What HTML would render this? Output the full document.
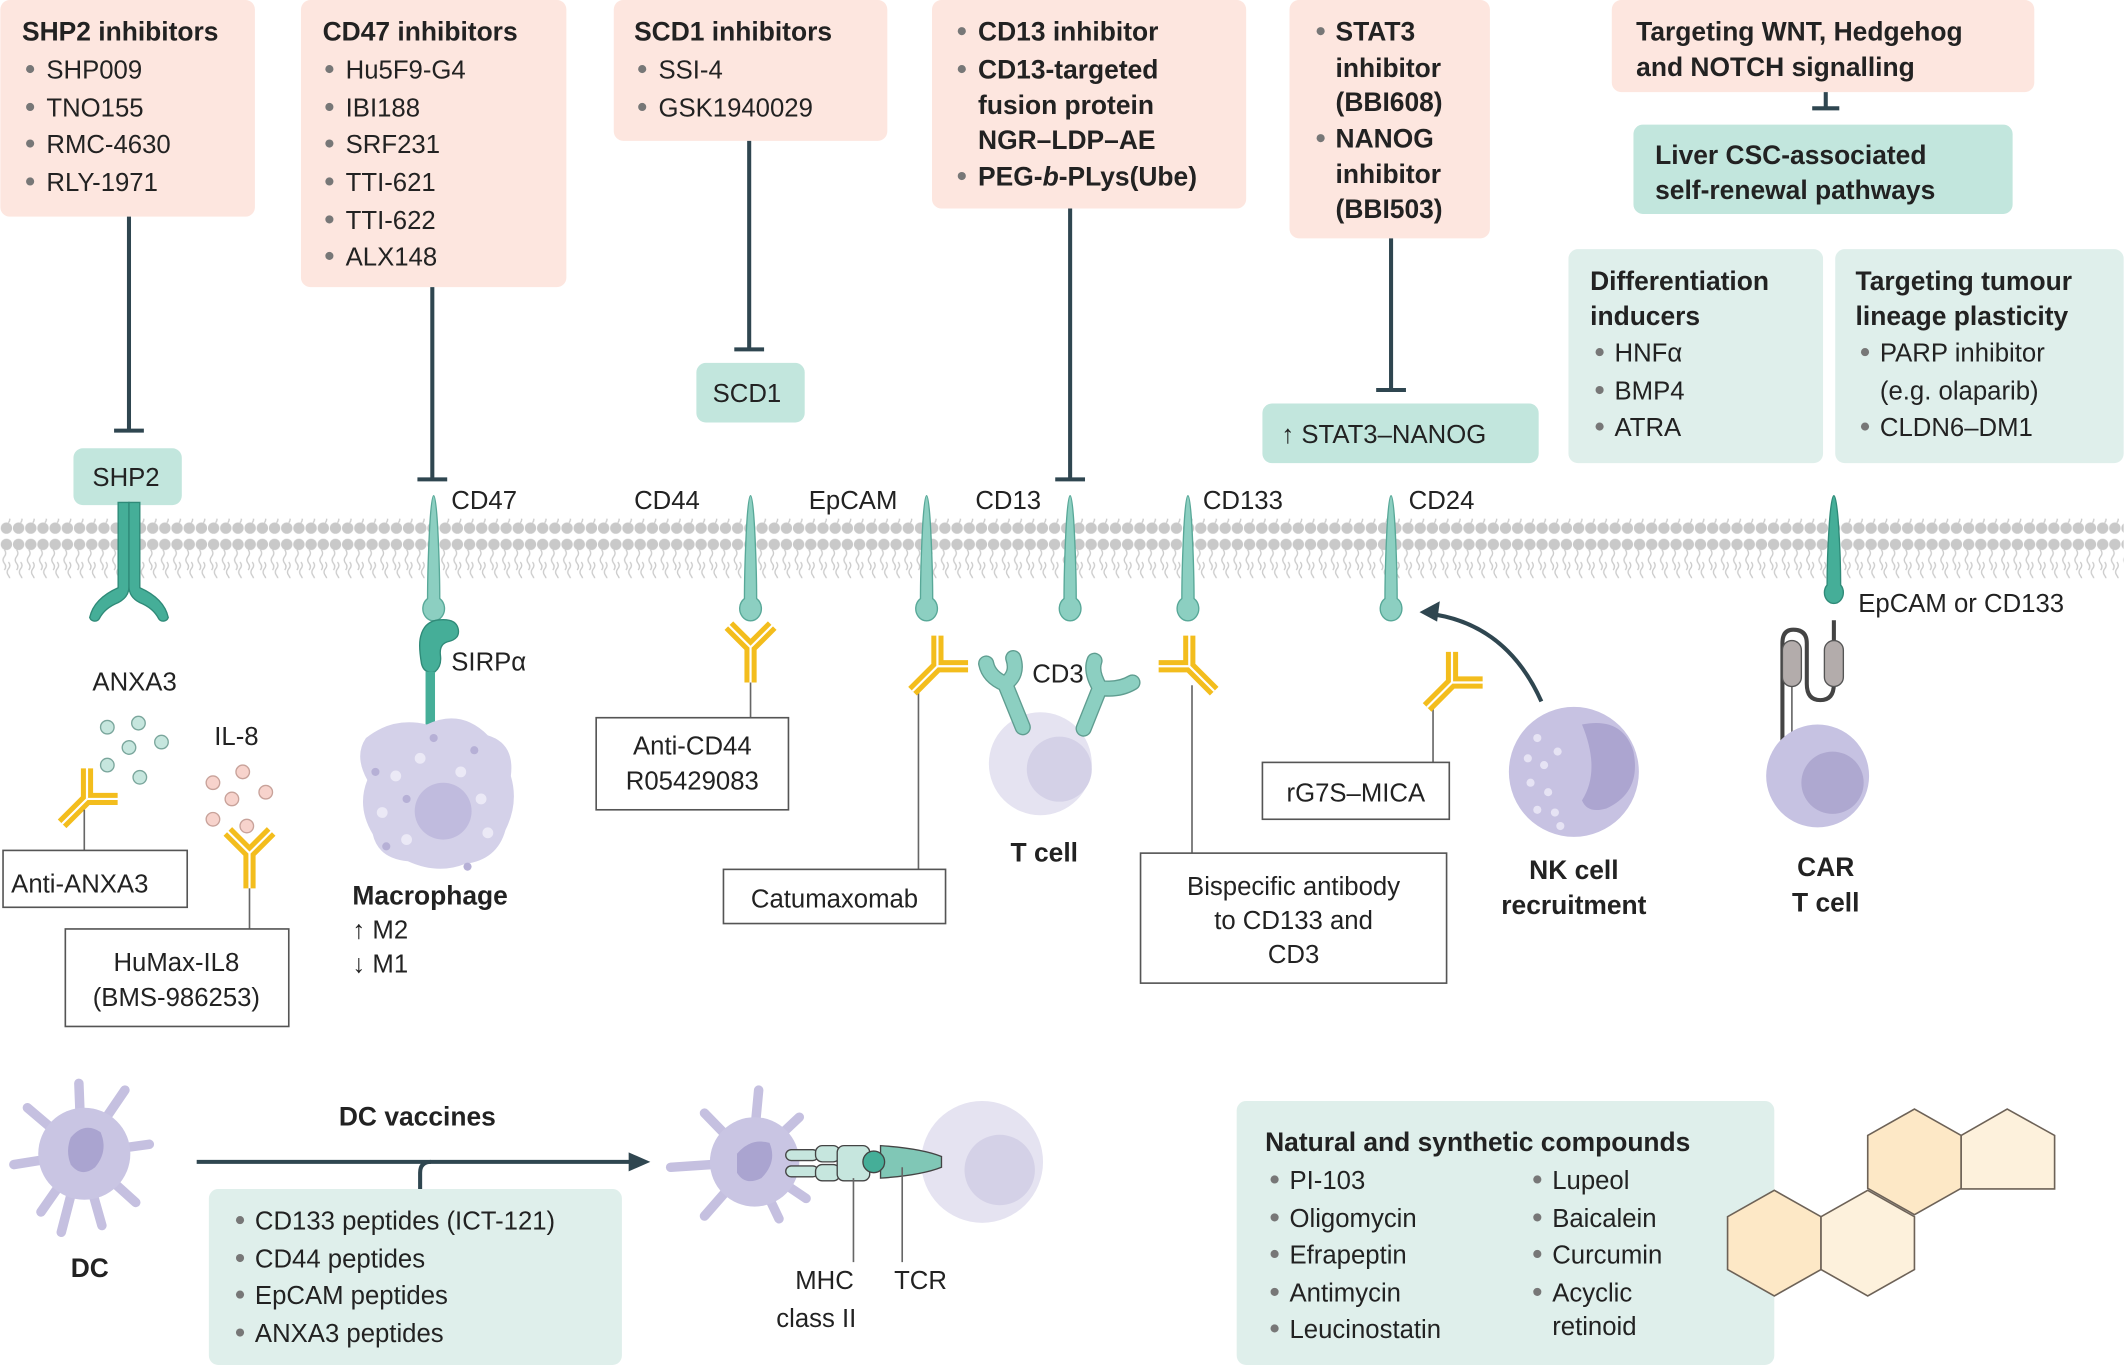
<!DOCTYPE html>
<html><head><meta charset="utf-8"><style>
html,body{margin:0;padding:0;background:#fff;}
svg{display:block;}
text{font-family:"Liberation Sans",sans-serif;fill:#222;}
.t{font-size:19px;}
.b{font-size:19.5px;font-weight:bold;}
.bul{fill:#777;}
</style></head><body>
<svg width="2124" height="1365" viewBox="0 0 1568 1008" xmlns="http://www.w3.org/2000/svg">
<defs>
<pattern id="mem" x="0" y="0" width="9" height="44" patternUnits="userSpaceOnUse">
<circle cx="4.5" cy="6" r="4.2" fill="#c9c9c9"/>
<circle cx="4.5" cy="38" r="4.2" fill="#c9c9c9"/>
<path d="M3,10 q2,2.5 0,5 q-2,2.5 0,5 q2,2.5 0,5" stroke="#ccc" fill="none" stroke-width="1"/>
<path d="M6,34 q2,-2.5 0,-5 q-2,-2.5 0,-5 q2,-2.5 0,-5" stroke="#ccc" fill="none" stroke-width="1"/>
</pattern>
<g id="ab">
<path d="M0,0 L0,26 M0,0 L-16,-16 M0,0 L16,-16" stroke="#f3bd1d" stroke-width="9" fill="none"/>
<path d="M0,0 L0,26 M0,0 L-17,-17 M0,0 L17,-17" stroke="#fff" stroke-width="1.6" fill="none"/>
</g>
<g id="rc">
<path d="M0,-50 C3,-50 4.5,10 4.5,26 A8,9 0 1 1 -4.5,26 C-4.5,10 -3,-50 0,-50Z" fill="#8ccfc1" stroke="#58a898" stroke-width="1"/>
</g>
</defs>

<rect x="0" y="383" width="1568" height="44" fill="url(#mem)"/>

<g fill="#fde6df">
<rect x="0" y="0" width="188" height="160" rx="7"/>
<rect x="222" y="0" width="196" height="212" rx="7"/>
<rect x="453" y="0" width="202" height="104" rx="7"/>
<rect x="688" y="0" width="232" height="154" rx="7"/>
<rect x="952" y="0" width="148" height="176" rx="7"/>
<rect x="1190" y="0" width="312" height="68" rx="7"/>
</g>
<text class="b" x="16" y="30">SHP2 inhibitors</text>
<g class="t"><text x="34" y="58">SHP009</text><text x="34" y="86">TNO155</text><text x="34" y="113">RMC-4630</text><text x="34" y="141">RLY-1971</text></g>
<g class="bul"><circle cx="22" cy="51" r="3"/><circle cx="22" cy="79" r="3"/><circle cx="22" cy="106" r="3"/><circle cx="22" cy="134" r="3"/></g>

<text class="b" x="238" y="30">CD47 inhibitors</text>
<g class="t"><text x="255" y="58">Hu5F9-G4</text><text x="255" y="86">IBI188</text><text x="255" y="113">SRF231</text><text x="255" y="141">TTI-621</text><text x="255" y="169">TTI-622</text><text x="255" y="196">ALX148</text></g>
<g class="bul"><circle cx="243" cy="51" r="3"/><circle cx="243" cy="79" r="3"/><circle cx="243" cy="106" r="3"/><circle cx="243" cy="134" r="3"/><circle cx="243" cy="162" r="3"/><circle cx="243" cy="189" r="3"/></g>

<text class="b" x="468" y="30">SCD1 inhibitors</text>
<g class="t"><text x="486" y="58">SSI-4</text><text x="486" y="86">GSK1940029</text></g>
<g class="bul"><circle cx="474" cy="51" r="3"/><circle cx="474" cy="79" r="3"/></g>

<g class="b"><text x="722" y="30">CD13 inhibitor</text><text x="722" y="58">CD13-targeted</text><text x="722" y="84">fusion protein</text><text x="722" y="110">NGR–LDP–AE</text><text x="722" y="137">PEG-<tspan font-style="italic">b</tspan>-PLys(Ube)</text></g>
<g class="bul"><circle cx="710" cy="23" r="3"/><circle cx="710" cy="51" r="3"/><circle cx="710" cy="130" r="3"/></g>

<g class="b"><text x="986" y="30">STAT3</text><text x="986" y="57">inhibitor</text><text x="986" y="82">(BBI608)</text><text x="986" y="109">NANOG</text><text x="986" y="135">inhibitor</text><text x="986" y="161">(BBI503)</text></g>
<g class="bul"><circle cx="975" cy="23" r="3"/><circle cx="975" cy="102" r="3"/></g>

<g class="b"><text x="1208" y="30">Targeting WNT, Hedgehog</text><text x="1208" y="56">and NOTCH signalling</text></g>

<g fill="#c2e6dd">
<rect x="1206" y="92" width="280" height="66" rx="7"/>
<rect x="54" y="331" width="80" height="42" rx="7"/>
<rect x="514" y="268" width="80" height="44" rx="7"/>
<rect x="932" y="298" width="204" height="44" rx="7"/>
</g>
<g fill="#dfefeb">
<rect x="1158" y="184" width="188" height="158" rx="7"/>
<rect x="1355" y="184" width="213" height="158" rx="7"/>
<rect x="154" y="878" width="305" height="130" rx="7"/>
<rect x="913" y="813" width="397" height="195" rx="7"/>
</g>
<g class="b"><text x="1222" y="121">Liver CSC-associated</text><text x="1222" y="147">self-renewal pathways</text></g>
<text class="t" x="68" y="359">SHP2</text>
<text class="t" x="526" y="297">SCD1</text>
<text class="t" x="946" y="327">↑ STAT3–NANOG</text>

<g class="b"><text x="1174" y="214">Differentiation</text><text x="1174" y="240">inducers</text></g>
<g class="t"><text x="1192" y="267">HNFα</text><text x="1192" y="295">BMP4</text><text x="1192" y="322">ATRA</text></g>
<g class="bul"><circle cx="1181" cy="260" r="3"/><circle cx="1181" cy="288" r="3"/><circle cx="1181" cy="315" r="3"/></g>
<g class="b"><text x="1370" y="214">Targeting tumour</text><text x="1370" y="240">lineage plasticity</text></g>
<g class="t"><text x="1388" y="267">PARP inhibitor</text><text x="1388" y="295">(e.g. olaparib)</text><text x="1388" y="322">CLDN6–DM1</text></g>
<g class="bul"><circle cx="1377" cy="260" r="3"/><circle cx="1377" cy="315" r="3"/></g>

<g stroke="#2f4650" stroke-width="3" fill="none">
<path d="M95,160 V318 M84,318 H106"/>
<path d="M319,212 V354 M308,354 H330"/>
<path d="M553,104 V258 M542,258 H564"/>
<path d="M790,154 V354 M779,354 H801"/>
<path d="M1027,176 V288 M1016,288 H1038"/>
<path d="M1348,68 V80 M1338,80 H1358"/>
</g>

<g fill="#45ae98" stroke="#2f8a78" stroke-width="1">
<path d="M87,371 h8 v62 q0,8 -8,12 q-10,4 -14,12 a4,4 0 0 1 -7,-1 q3,-14 21,-22 z"/>
<path d="M103,371 h-8 v62 q0,8 8,12 q10,4 14,12 a4,4 0 0 0 7,-1 q-3,-14 -21,-22 z"/>
</g>

<use href="#rc" x="320" y="416"/>
<use href="#rc" x="554" y="416"/>
<use href="#rc" x="684" y="416"/>
<use href="#rc" x="790" y="416"/>
<use href="#rc" x="877" y="416"/>
<use href="#rc" x="1027" y="416"/>
<path d="M1354,366 C1357,366 1359,410 1359,432 A7,8 0 1 1 1349,432 C1349,410 1351,366 1354,366Z" fill="#45ae98" stroke="#2f8a78"/>
<g class="t"><text x="333" y="376">CD47</text><text x="468" y="376">CD44</text><text x="597" y="376">EpCAM</text><text x="720" y="376">CD13</text><text x="888" y="376">CD133</text><text x="1040" y="376">CD24</text><text x="1372" y="452">EpCAM or CD133</text></g>

<path d="M322,458 q14,-2 16,6 q2,8 -8,10 q-6,2 -5,10 q1,8 -4,12 q-8,2 -10,-6 q-2,-12 -1,-18 q2,-12 12,-14z" fill="#45ae98" stroke="#2f8a78"/>
<rect x="314" y="496" width="7" height="40" fill="#45ae98"/>
<text class="t" x="333" y="495">SIRPα</text>

<path d="M270,545 q20,-16 45,-10 q25,-12 45,8 q20,6 17,30 q6,20 -4,40 q-6,22 -30,25 q-20,8 -42,-2 q-22,-2 -26,-20 q-12,-20 -4,-40 q-10,-18 -1,-31z" fill="#d4d1e9"/>
<g fill="#ebe9f6"><circle cx="292" cy="573" r="4"/><circle cx="310" cy="560" r="4"/><circle cx="340" cy="570" r="4"/><circle cx="282" cy="600" r="4"/><circle cx="355" cy="590" r="4"/><circle cx="300" cy="620" r="4"/><circle cx="360" cy="615" r="4"/></g>
<g fill="#b6b0d6"><circle cx="277" cy="570" r="3"/><circle cx="320" cy="545" r="3"/><circle cx="300" cy="590" r="3"/><circle cx="350" cy="554" r="3"/><circle cx="285" cy="625" r="3"/><circle cx="345" cy="640" r="3"/></g>
<circle cx="327" cy="599" r="21" fill="#c0bbde"/>
<text class="b" x="260" y="668">Macrophage</text>
<g class="t"><text x="260" y="693">↑ M2</text><text x="260" y="718">↓ M1</text></g>

<g class="t"><text x="68" y="510">ANXA3</text><text x="158" y="550">IL-8</text></g>
<g fill="#c6e6de" stroke="#7aa69c" stroke-width="1"><circle cx="79" cy="537" r="5"/><circle cx="102" cy="534" r="5"/><circle cx="95" cy="552" r="5"/><circle cx="119" cy="548" r="5"/><circle cx="79" cy="565" r="5"/><circle cx="103" cy="574" r="5"/></g>
<g fill="#f7d3cc" stroke="#c8a29a" stroke-width="1"><circle cx="157" cy="578" r="5"/><circle cx="179" cy="570" r="5"/><circle cx="171" cy="590" r="5"/><circle cx="196" cy="585" r="5"/><circle cx="157" cy="605" r="5"/><circle cx="182" cy="610" r="5"/></g>
<use href="#ab" transform="translate(64,590) rotate(45)"/>
<use href="#ab" transform="translate(184,630)"/>
<g stroke="#666" stroke-width="1.2"><path d="M62,598 V628 M184,656 V686 M554,496 V530 M678,510 V642 M880,506 V630 M1058,522 V563 M1323,485 V550"/></g>
<g fill="#fff" stroke="#555" stroke-width="1.2">
<rect x="2" y="628" width="136" height="42"/>
<rect x="48" y="686" width="165" height="72"/>
<rect x="440" y="530" width="142" height="68"/>
<rect x="534" y="642" width="164" height="40"/>
<rect x="932" y="563" width="138" height="42"/>
<rect x="842" y="630" width="226" height="96"/>
</g>
<g class="t"><text x="8" y="659">Anti-ANXA3</text><text x="130" y="717" text-anchor="middle">HuMax-IL8</text><text x="130" y="743" text-anchor="middle">(BMS-986253)</text>
<text x="511" y="557" text-anchor="middle">Anti-CD44</text><text x="511" y="583" text-anchor="middle">R05429083</text>
<text x="616" y="670" text-anchor="middle">Catumaxomab</text><text x="1001" y="592" text-anchor="middle">rG7S–MICA</text>
<text x="955" y="661" text-anchor="middle">Bispecific antibody</text><text x="955" y="686" text-anchor="middle">to CD133 and</text><text x="955" y="711" text-anchor="middle">CD3</text></g>

<use href="#ab" transform="translate(554,478)"/>
<use href="#ab" transform="translate(692,492) rotate(45)"/>
<use href="#ab" transform="translate(878,492) rotate(-45)"/>
<use href="#ab" transform="translate(1072,504) rotate(45)"/>

<circle cx="768" cy="564" r="38" fill="#e5e3f1"/>
<circle cx="782" cy="568" r="24" fill="#d4d1e7"/>
<g stroke="#5f9d90" stroke-width="12" stroke-linecap="round" fill="none"><path d="M755,537 L742,505 M742,505 Q730,500 728,490 M742,505 Q752,498 748,486 M800,538 L812,508 M812,508 Q805,496 808,488 M812,508 Q826,510 836,504"/></g>
<g stroke="#8ccfc1" stroke-width="10" stroke-linecap="round" fill="none"><path d="M755,537 L742,505 M742,505 Q730,500 728,490 M742,505 Q752,498 748,486 M800,538 L812,508 M812,508 Q805,496 808,488 M812,508 Q826,510 836,504"/></g>
<text class="t" x="762" y="504">CD3</text>
<text class="b" x="746" y="636">T cell</text>

<path d="M1138,518 Q1112,460 1054,453" stroke="#2f4650" stroke-width="3" fill="none"/>
<path d="M1048,452 l15,-8 l-2,15z" fill="#2f4650"/>
<circle cx="1162" cy="570" r="48" fill="#c7c2e2"/>
<path d="M1168,535 q30,-6 38,20 q6,30 -20,42 q-14,4 -18,-6 q14,-22 0,-56z" fill="#aca5d0"/>
<g fill="#e6e3f4"><circle cx="1135" cy="545" r="3"/><circle cx="1128" cy="560" r="3"/><circle cx="1140" cy="565" r="3"/><circle cx="1130" cy="578" r="3"/><circle cx="1143" cy="585" r="3"/><circle cx="1135" cy="598" r="3"/><circle cx="1148" cy="600" r="3"/><circle cx="1150" cy="555" r="3"/><circle cx="1152" cy="610" r="3"/></g>
<g class="b" text-anchor="middle"><text x="1162" y="649">NK cell</text><text x="1162" y="675">recruitment</text></g>

<path d="M1354,458 V505 q0,12 -10,12 q-10,0 -10,-12 V475 q0,-10 -10,-10 q-8,0 -8,10 V550" stroke="#444" stroke-width="3" fill="none"/>
<rect x="1316" y="473" width="14" height="34" rx="7" fill="#b3acab" stroke="#555"/>
<rect x="1347" y="473" width="14" height="34" rx="7" fill="#b3acab" stroke="#555"/>
<circle cx="1342" cy="573" r="38" fill="#c6c2e2"/>
<circle cx="1353" cy="578" r="23" fill="#aea8d0"/>
<g class="b" text-anchor="middle"><text x="1348" y="647">CAR</text><text x="1348" y="673">T cell</text></g>

<g stroke="#c5c0e0" stroke-width="7" stroke-linecap="round">
<path d="M60,852 L20,818 M60,852 L30,895 M60,852 L10,860 M60,852 L58,800 M60,852 L92,805 M60,852 L110,845 M60,852 L100,888 M60,852 L75,905 M60,852 L45,910"/>
</g>
<circle cx="62" cy="852" r="34" fill="#c9c5e3"/>
<path d="M52,840 q10,-12 22,-4 q6,14 -4,26 q-10,8 -18,-2 q-4,-10 0,-20z" fill="#aaa4d0"/>
<text class="b" x="52" y="943">DC</text>
<text class="b" x="250" y="831">DC vaccines</text>
<path d="M145,858 H468" stroke="#2f4650" stroke-width="3" fill="none"/>
<path d="M310,878 V866 q0,-8 8,-8" stroke="#2f4650" stroke-width="3" fill="none"/>
<path d="M480,858 l-16,-7 v14z" fill="#2f4650"/>
<g class="t"><text x="188" y="908">CD133 peptides (ICT-121)</text><text x="188" y="936">CD44 peptides</text><text x="188" y="963">EpCAM peptides</text><text x="188" y="991">ANXA3 peptides</text></g>
<g class="bul"><circle cx="177" cy="901" r="3"/><circle cx="177" cy="929" r="3"/><circle cx="177" cy="956" r="3"/><circle cx="177" cy="984" r="3"/></g>

<g stroke="#c5c0e0" stroke-width="7" stroke-linecap="round">
<path d="M555,858 L520,822 M555,858 L495,862 M555,858 L520,898 M555,858 L560,805 M555,858 L590,825 M555,858 L595,885 M555,858 L575,900"/>
</g>
<circle cx="557" cy="858" r="33" fill="#c9c5e3"/>
<path d="M544,852 q10,-12 24,-8 q6,14 -6,26 q-12,6 -18,-4z" fill="#aaa4d0"/>
<circle cx="725" cy="858" r="45" fill="#e5e3f1"/>
<circle cx="738" cy="864" r="26" fill="#d4d1e7"/>
<g fill="#c6e6de" stroke="#444" stroke-width="1">
<rect x="580" y="849" width="24" height="8" rx="4"/><rect x="580" y="861" width="24" height="8" rx="4"/>
<rect x="602" y="846" width="18" height="12" rx="5"/><rect x="602" y="860" width="18" height="12" rx="5"/>
<rect x="618" y="846" width="24" height="26" rx="5"/>
<path d="M650,846 q30,2 45,8 v8 q-15,6 -45,8z" fill="#80c7b6"/>
</g>
<circle cx="645" cy="858" r="8" fill="#45ae98" stroke="#444"/>
<g stroke="#666" stroke-width="1.2"><path d="M630,870 V932 M666,862 V932"/></g>
<g class="t"><text x="587" y="952">MHC</text><text x="573" y="980">class II</text><text x="660" y="952">TCR</text></g>

<text class="b" x="934" y="850">Natural and synthetic compounds</text>
<g class="t"><text x="952" y="878">PI-103</text><text x="952" y="906">Oligomycin</text><text x="952" y="933">Efrapeptin</text><text x="952" y="961">Antimycin</text><text x="952" y="988">Leucinostatin</text>
<text x="1146" y="878">Lupeol</text><text x="1146" y="906">Baicalein</text><text x="1146" y="933">Curcumin</text><text x="1146" y="961">Acyclic</text><text x="1146" y="986">retinoid</text></g>
<g class="bul"><circle cx="941" cy="871" r="3"/><circle cx="941" cy="899" r="3"/><circle cx="941" cy="926" r="3"/><circle cx="941" cy="954" r="3"/><circle cx="941" cy="981" r="3"/>
<circle cx="1135" cy="871" r="3"/><circle cx="1135" cy="899" r="3"/><circle cx="1135" cy="926" r="3"/><circle cx="1135" cy="954" r="3"/></g>
<g stroke="#6d6257" stroke-width="1.2">
<polygon points="1310,879 1344.5,898.5 1344.5,937.5 1310,957 1275.5,937.5 1275.5,898.5" fill="#fde8c6"/>
<polygon points="1379,879 1413.5,898.5 1413.5,937.5 1379,957 1344.5,937.5 1344.5,898.5" fill="#fdf1dc"/>
<polygon points="1413.5,819 1448,838.5 1448,877.5 1413.5,897 1379,877.5 1379,838.5" fill="#fde8c6"/>
<polygon points="1482,819 1517,838.5 1517,878 1448,878 1448,838.5" fill="#fdf1dc"/>
</g>
</svg>
</body></html>
